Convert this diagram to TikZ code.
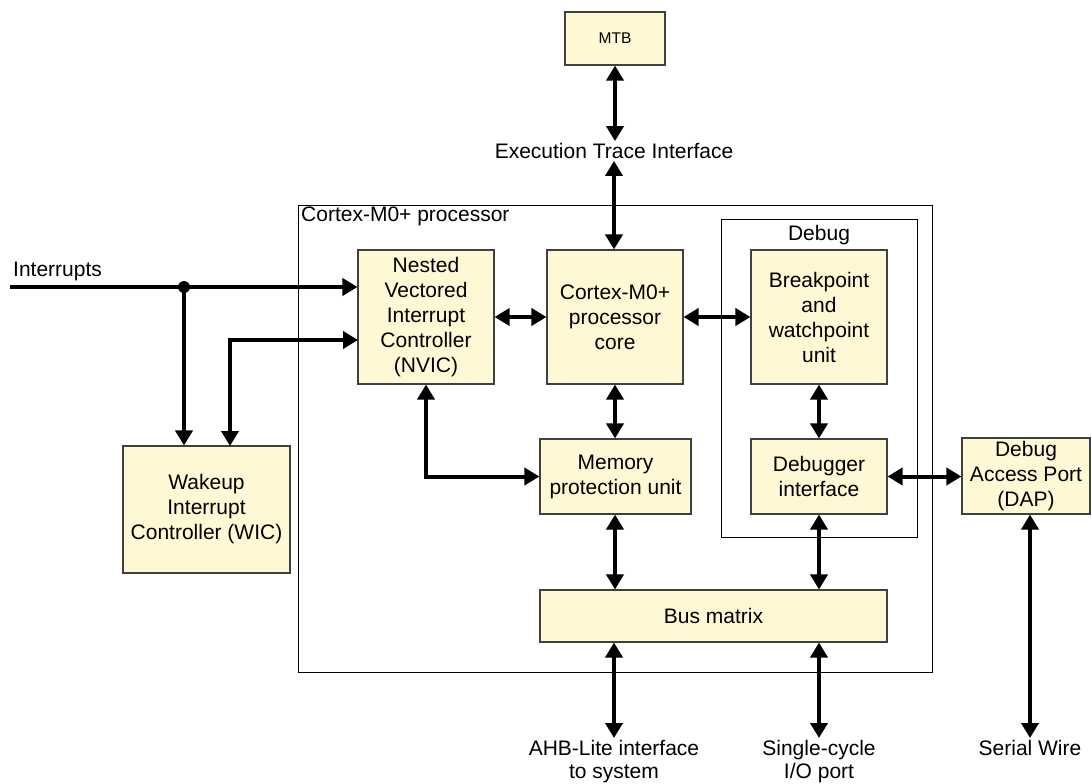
\documentclass[tikz,border=0pt]{standalone}
\usepackage{fontspec}
\setmainfont{Liberation Sans}
\usetikzlibrary{arrows.meta}
\definecolor{boxfill}{HTML}{FFF8D4}
\begin{document}
\begin{tikzpicture}[x=1pt,y=-1pt,
  box/.style={draw=black!75, line width=1.1pt, fill=boxfill, align=center, inner sep=0pt, font=\fontsize{21}{25}\selectfont},
  frame/.style={draw=black, line width=0.9pt, inner sep=0pt},
  conn/.style={line width=4pt, {Triangle[width=17pt,length=15pt]}-{Triangle[width=17pt,length=15pt]}},
  one/.style={line width=4pt, -{Triangle[width=17pt,length=15pt]}},
  lbl/.style={font=\fontsize{21}{23}\selectfont, align=center, inner sep=2pt}]
\useasboundingbox (0,0) rectangle (1092,784);

% frames
\node[frame, minimum width=634pt, minimum height=467pt] (proc) at (615,438.5) {};
\node[frame, minimum width=196pt, minimum height=318pt] (dbgframe) at (819,378) {};
\node[lbl, anchor=west, inner sep=0pt] (proclbl) at (301,216) {Cortex-M0+ processor};
\node[lbl, inner sep=0pt] (debuglbl) at (819,235) {Debug};

% boxes
\node[box, font=\fontsize{15.5}{18}\selectfont, minimum width=100pt, minimum height=53pt] (mtb) at (615,38.5) {MTB};
\node[box, minimum width=136pt, minimum height=134pt] (nvic) at (426,317) {Nested\\Vectored\\Interrupt\\Controller\\(NVIC)};
\node[box, minimum width=136pt, minimum height=134pt] (core) at (615,317) {Cortex-M0+\\processor\\core};
\node[box, minimum width=136pt, minimum height=134pt] (bwu) at (819,317) {Breakpoint\\and\\watchpoint\\unit};
\node[box, minimum width=151pt, minimum height=75pt] (mpu) at (615.5,476.5) {Memory\\protection unit};
\node[box, minimum width=136pt, minimum height=75pt] (dbi) at (819,476.5) {Debugger\\interface};
\node[box, minimum width=347pt, minimum height=52pt] (bus) at (713.5,616) {Bus matrix};
\node[box, minimum width=128pt, minimum height=76pt] (dap) at (1026,476) {Debug\\Access Port\\(DAP)};
\node[box, minimum width=167pt, minimum height=127pt] (wic) at (206.5,509.5) {Wakeup\\Interrupt\\Controller (WIC)};

% labels
\node[lbl] (eti) at (614,151) {Execution Trace Interface};
\node[lbl, anchor=west, inner sep=0pt] (intlbl) at (13,271) {Interrupts};
\node[lbl, anchor=north] (ahb) at (614,738) {AHB-Lite interface\\to system};
\node[lbl, anchor=north] (sio) at (819,738) {Single-cycle\\I/O port};
\node[lbl, anchor=north] (sw) at (1030,738) {Serial Wire};

% interrupts
\coordinate (intin) at (10,287);
\node[circle, fill=black, inner sep=0pt, minimum size=12pt] (dot) at (184,287) {};
\coordinate (w2) at (230,446);
\coordinate (n2) at (358,340);
\draw[one] (intin) -- (nvic.west |- intin);
\draw[one] (dot.center) -- (dot.center |- wic.north);
\draw[conn] (w2) |- (n2);

% connectors
\draw[conn] (mtb.south) -- (mtb.south |- eti.north);
\draw[conn] (eti.south) -- (eti.south |- core.north);
\draw[conn] (nvic.east) -- (core.west);
\draw[conn] (core.east) -- (bwu.west);
\draw[conn] (core.south) -- (core.south |- mpu.north);
\draw[conn] (nvic.south) |- (mpu.west);
\draw[conn] (bwu.south) -- (dbi.north);
\draw[conn] (dbi.east) -- (dap.west |- dbi.east);
\draw[conn] (mpu.south -| core.south) -- (bus.north -| core.south);
\draw[conn] (dbi.south) -- (bus.north -| dbi.south);
\draw[conn] (bus.south -| ahb.north) -- (ahb.north);
\draw[conn] (bus.south -| sio.north) -- (sio.north);
\draw[conn] (dap.south -| sw.north) -- (sw.north);
\end{tikzpicture}
\end{document}
